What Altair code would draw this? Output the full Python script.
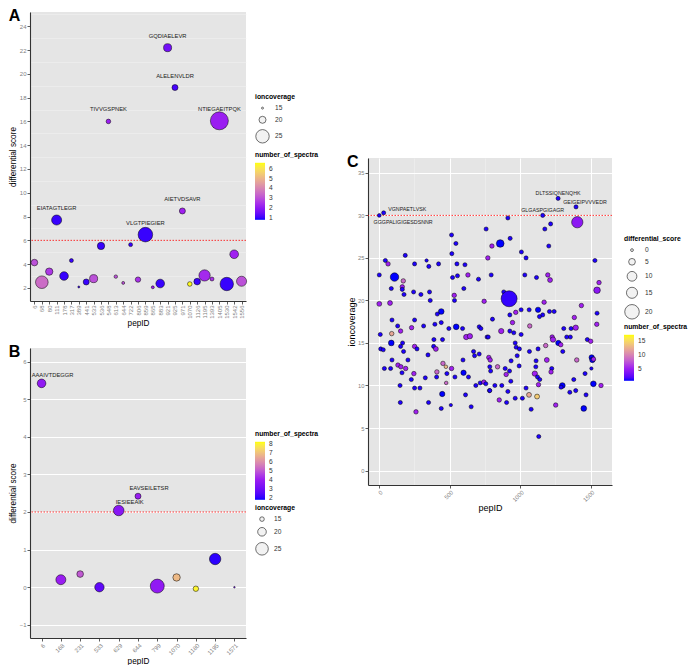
import altair as alt
import pandas as pd

# ---------------- Panel A data ----------------
a_pep = ["6", "68", "80", "111", "178", "317", "389", "441", "533", "536", "548", "613", "644", "722", "806",
         "859", "865", "883", "921", "925", "971", "1070", "1126", "1195", "1393", "1405", "1530", "1542", "1556"]
a_diff = [4.13, 2.48, 3.37, 7.71, 3.00, 4.30, 2.08, 2.50, 2.78, 5.53, 16.00, 2.95, 2.42, 5.64, 2.70,
          6.48, 2.05, 2.37, 22.20, 18.85, 8.47, 2.33, 2.53, 3.05, 2.75, 16.05, 2.33, 4.83, 2.56]
a_ion = [19.4, 24.2, 20.2, 22.0, 21.0, 16.3, 15.0, 18.6, 20.6, 20.2, 16.9, 15.9, 15.5, 16.3, 17.8,
         26.0, 15.5, 21.0, 20.6, 18.6, 18.6, 16.9, 19.4, 23.0, 16.3, 29.5, 25.0, 21.0, 22.0]
a_spec = [3.0, 3.5, 2.6, 1.0, 1.0, 1.0, 1.0, 1.0, 3.0, 1.0, 2.2, 3.0, 3.0, 1.0, 2.5,
          1.0, 2.3, 1.0, 1.6, 1.1, 2.3, 6.5, 1.0, 2.4, 2.5, 2.2, 1.0, 2.3, 3.0]
a_label = ["", "", "", "EIATAGTLEGR", "", "", "", "", "", "", "TIVVGSPNEK", "", "", "", "",
           "VLGTPIEGIER", "", "", "GQDIAELEVR", "ALELENVLDR", "AIETVDSAVR", "", "", "", "",
           "NTIEGAEITPQK", "", "", ""]
a_yticks = [2, 4, 6, 8, 10, 12, 14, 16, 18, 20, 22, 24]
a_yminor = [1, 3, 5, 7, 9, 11, 13, 15, 17, 19, 21, 23, 25]
A_THRESH = 6

# ---------------- Panel B data ----------------
b_pep = ["6", "168", "231", "533", "629", "644", "799", "1070", "1180", "1195", "1571"]
b_diff = [5.42, 0.20, 0.35, 0.00, 2.04, 2.42, 0.03, 0.26, -0.04, 0.75, 0.00]
b_ion = [20.0, 21.5, 17.2, 20.8, 22.2, 16.4, 26.8, 18.2, 15.8, 23.3, 12.0]
b_spec = [3.8, 4.0, 5.0, 2.7, 3.6, 4.0, 3.8, 6.8, 8.0, 2.0, 3.0]
b_label = ["AAAIVTDEGGR", "", "", "", "IESIEEAIK", "EAVSEILETSR", "", "", "", "", ""]
B_THRESH = 2

# ---------------- Panel C data ----------------
c_pep = [33, 2, 759, 514, 545, 516, 186, 771, 45, 64, 337, 252, 353, 422, 552, 609, 2, 110, 172, 521,
         556, 630, 705, 795, 87, 165, 165, 177, 245, 297, 358, 601, 533, 535, 363, 2, 78, 745, 441, 413,
         92, 252, 132, 316, 396, 441, 231, 153, 9, 90, 547, 495, 592, 618, 644, 710, 722, 766, 87, 167,
         389, 450, 12, 30, 153, 174, 252, 269, 387, 403, 347, 205, 92, 670, 677, 710, 778, 595, 134, 155,
         189, 38, 82, 163, 247, 453, 474, 514, 410, 408, 481, 538, 599, 634, 328, 229, 476, 149, 252, 290,
         448, 686, 717, 743, 757, 783, 613, 151, 351, 509, 441, 653, 262,
         1269, 1396, 1160, 913, 1405, 1216, 1175, 929, 859, 800, 1203, 1009, 1042, 1530, 1033, 1116, 1196,
         1212, 1559, 1545, 884, 922, 1007, 1064, 1127, 1170, 1208, 1241, 1160, 1137, 1434, 1545, 1384, 927,
         969, 804, 946, 1068, 866, 927, 955, 1007, 774, 1309, 1361, 1394, 1543, 1227, 1233, 1330, 1356,
         1271, 1288, 1476, 1500, 965, 972, 995, 1181, 1127, 1066, 1302, 979, 788, 936, 1189, 1113, 1401,
         1507, 1512, 1520, 993, 1111, 785, 840, 894, 925, 1224, 1219, 1505, 791, 1104, 901, 1123, 1139,
         1460, 1380, 934, 1130, 821, 870, 1299, 1290, 1519, 1573, 1042, 785, 913, 1352, 1394, 1063, 1120,
         965, 1016, 1467, 852, 904, 1252, 1451, 1078, 1132]
c_ion = [30.3, 30.0, 28.4, 27.7, 26.7, 25.5, 25.3, 25.0, 24.7, 24.3, 24.7, 24.3, 24.0, 24.3, 24.3, 24.2, 23.0, 22.75, 22.3, 22.7,
         22.9, 23.0, 22.5, 23.0, 21.4, 21.6, 21.3, 20.7, 21.0, 20.7, 21.0, 21.4, 20.6, 20.0, 20.0, 19.6, 19.7, 19.9, 18.7, 18.4,
         17.7, 17.7, 17.0, 17.0, 17.2, 17.4, 16.8, 16.4, 16.0, 16.1, 16.9, 16.7, 16.7, 15.7, 15.8, 16.9, 16.7, 15.7, 15.0, 15.0,
         15.4, 15.4, 14.3, 14.2, 14.6, 14.0, 14.6, 14.3, 14.6, 14.3, 13.6, 13.0, 13.0, 14.0, 13.5, 13.7, 13.3, 13.0, 12.4, 12.2,
         12.0, 12.0, 12.0, 11.5, 11.4, 12.6, 12.2, 12.0, 11.6, 11.0, 11.4, 11.0, 11.5, 11.0, 10.9, 10.7, 10.3, 10.0, 9.7, 9.7,
         9.0, 10.0, 10.3, 10.4, 10.2, 9.4, 8.9, 8.0, 8.0, 7.7, 7.3, 7.5, 6.9,
         32.0, 31.0, 30.0, 29.7, 29.2, 29.0, 28.4, 27.3, 26.7, 26.4, 26.4, 25.7, 25.0, 24.7, 23.0, 22.7, 23.0,
         22.4, 22.1, 21.2, 21.0, 20.2, 18.9, 18.9, 18.9, 19.8, 18.7, 18.7, 18.3, 18.1, 19.4, 18.5, 18.0, 18.3,
         18.6, 17.8, 17.4, 17.0, 16.4, 16.4, 16.2, 16.0, 15.7, 16.7, 16.7, 16.8, 17.2, 15.7, 15.4, 15.7, 15.7,
         15.0, 14.8, 15.4, 15.2, 15.0, 14.5, 14.3, 14.7, 14.3, 14.0, 14.0, 13.5, 13.0, 12.9, 13.0, 12.9, 13.0,
         13.3, 13.0, 13.1, 12.3, 12.2, 12.2, 12.2, 12.0, 11.7, 12.0, 11.6, 12.0, 11.7, 11.4, 11.3, 11.0, 10.7,
         11.4, 10.7, 10.5, 10.1, 10.0, 10.0, 10.0, 9.8, 10.2, 10.0, 9.7, 9.4, 9.3, 9.2, 9.4, 8.9, 8.7,
         8.5, 8.5, 8.9, 8.3, 8.0, 7.7, 7.3, 7.2, 4.0]
c_diff = [1.5, 1.0, 1.5, 1.5, 1.5, 1.5, 1.5, 2, 1.5, 2, 0.5, 1.5, 1.5, 1.5, 1.5, 1.5, 1.5, 7.7, 2, 1.5,
          1.5, 2, 1.5, 1.5, 1.5, 2, 1.5, 1.5, 1.5, 1.5, 1.5, 1.5, 2, 1.5, 1.5, 2.5, 2.5, 2, 3.5, 1.5,
          1.5, 1.5, 1.5, 1.5, 1.5, 1.5, 2, 2, 1.5, 2, 3.5, 1.5, 1.5, 3, 3, 1.5, 1.5, 1.5, 3.5, 1.5,
          1.5, 1.5, 1.5, 1.5, 1.5, 1.5, 2, 1.5, 1.5, 2.5, 1.5, 1.5, 1.5, 1.5, 1.5, 1.5, 2, 1.5, 2, 2,
          2, 1.5, 1.5, 1.5, 2, 2, 0.8, 2, 2, 1.5, 1.5, 1.5, 3, 1.5, 1.5, 1.5, 0.8, 1.5, 1.5, 1.5,
          3, 1.5, 1.5, 2, 1.5, 1.5, 1.5, 1.5, 1.5, 0.5, 1.5, 1.5, 2,
          1.5, 1.5, 1.5, 1.5, 16.0, 1.5, 1.5, 1.5, 6.4, 2, 1.5, 1.5, 1.5, 1.5, 1.5, 1.5, 2,
          2.5, 2, 4.8, 1.5, 22.2, 1.5, 1.5, 3, 2, 1.5, 1.5, 1.5, 1.5, 2, 1.5, 2, 1.5,
          2, 1.5, 2, 2, 3, 1.5, 1.5, 1.5, 1.5, 1.5, 1.5, 3, 2, 2, 3, 1.5, 1.5,
          3, 2, 1.5, 2, 1.5, 1.5, 1.5, 2, 1.5, 1.5, 1.5, 1.5, 2, 1.5, 2.5, 1.5, 2,
          3, 3, 2, 1.5, 1.5, 1.5, 2, 1.5, 1.5, 1.5, 2, 0.5, 1.5, 3, 2, 1.5, 1.5,
          1.5, 1.5, 1.5, 2, 1.5, 1.5, 3.5, 1.5, 3.5, 2, 1.5, 1.5, 1.5, 1.5, 1.5, 2.5, 2.5,
          1.5, 1.5, 1.5, 2, 1.5, 2, 3.5, 1.5, 1.5]
c_spec = [1.2, 1.2, 1.2, 1.2, 1.2, 1.2, 1.2, 5.5, 1.2, 5.5, 1.2, 1.2, 1.2, 1.2, 1.2, 1.2, 1.2, 1.0, 8.5, 1.2,
          1.2, 5.5, 1.2, 1.2, 1.2, 5.5, 1.2, 1.2, 1.2, 1.2, 1.2, 1.2, 5.5, 1.2, 1.2, 5.5, 5.5, 5.5, 1.0, 1.2,
          1.2, 1.2, 1.2, 1.2, 1.2, 1.2, 5.5, 5.5, 1.2, 12, 1.0, 1.2, 1.2, 5.5, 5.5, 1.2, 1.2, 1.2, 1.0, 1.2,
          1.2, 1.2, 1.2, 1.2, 1.2, 1.2, 5.5, 1.2, 1.2, 5.5, 1.2, 1.2, 1.2, 1.2, 1.2, 1.2, 5.5, 1.2, 5.5, 5.5,
          5.5, 1.2, 1.2, 1.2, 5.5, 8.5, 13, 5.5, 8.5, 1.2, 1.2, 1.2, 1.0, 1.2, 1.2, 1.2, 8.5, 1.2, 1.2, 1.2,
          1.0, 1.2, 1.2, 5.5, 1.2, 1.2, 1.2, 1.2, 1.2, 1.2, 1.2, 1.2, 5.5,
          1.2, 1.2, 1.2, 1.2, 4.5, 1.2, 1.2, 1.2, 1.0, 5.5, 1.2, 1.2, 1.2, 1.2, 1.2, 1.2, 5.5,
          5.5, 5.5, 4.5, 1.2, 1.5, 1.2, 1.2, 1.0, 5.5, 1.2, 1.2, 1.2, 1.2, 5.5, 1.2, 5.5, 1.2,
          5.5, 1.2, 5.5, 8.5, 5.5, 1.2, 1.2, 1.2, 1.2, 1.2, 1.2, 5.5, 5.5, 5.5, 5.5, 1.2, 1.2,
          1.0, 5.5, 1.2, 5.5, 1.2, 1.2, 1.2, 8.5, 1.2, 1.2, 1.2, 1.2, 5.5, 1.2, 5.5, 1.2, 8.5,
          1.0, 1.0, 5.5, 1.2, 1.2, 1.2, 8.5, 1.2, 1.2, 1.2, 5.5, 1.2, 1.2, 5.5, 5.5, 1.2, 1.2,
          1.2, 1.2, 1.2, 5.5, 1.2, 1.2, 1.0, 1.2, 1.0, 5.5, 1.2, 1.2, 1.2, 1.2, 1.2, 12, 14,
          1.2, 1.2, 1.2, 5.5, 1.2, 5.5, 1.0, 1.2, 1.2]
c_lab_text = ["VGNPAETLVSK", "GGGPALIGIGESDSNNR", "DLTSSIQNENQHK", "GEIGEIPVVVEDR", "GLGASPGIGAGR"]
c_lab_pep = [33, 2, 1269, 1396, 1160]
c_lab_ion = [30.3, 30.0, 32.0, 31.0, 30.0]
C_THRESH = 30

# ---------------- styling helpers ----------------
BG = "#E5E5E5"
MINOR = "#F2F2F2"
FONT = "Liberation Sans"
GRAD = ["#0000FF", "#A020F0", "#FFFF00"]


def major_test(step):
    return f"abs(datum.value / {step} - round(datum.value / {step})) < 0.001"


def q_axis(title, values, step, label_fs, title_fs, angle=0, fmt=None):
    major = major_test(step)
    kw = dict(
        title=title, values=values,
        labelExpr=f"({major}) ? datum.label : ''",
        gridColor={"condition": {"test": major, "value": "white"}, "value": MINOR},
        gridWidth={"condition": {"test": major, "value": 1.0}, "value": 0.5},
        tickOpacity={"condition": {"test": major, "value": 1}, "value": 0},
        labelAngle=angle, labelFontSize=label_fs, titleFontSize=title_fs, labelOverlap=False,
    )
    if fmt:
        kw["format"] = fmt
    return alt.Axis(**kw)


def cat_axis(angle):
    return alt.Axis(title="pepID", labelAngle=angle, labelFontSize=6, titleFontSize=8.2,
                    gridColor="white", gridWidth=1.0, labelOverlap=False)


def size_legend(title, values, lx, ly):
    return alt.Legend(title=title, values=values, orient="none", legendX=lx, legendY=ly,
                      symbolFillColor=MINOR, symbolStrokeColor="#333333", symbolStrokeWidth=0.7,
                      titleFontSize=6.8, labelFontSize=6.6, rowPadding=3, labelOffset=5)


def color_legend(title, values, lx, ly, length):
    return alt.Legend(title=title, values=values, orient="none", legendX=lx, legendY=ly,
                      direction="vertical", gradientLength=length, gradientThickness=10,
                      titleFontSize=6.8, labelFontSize=6.6, labelOffset=4)


def panel_title(letter):
    return alt.TitleParams(text=letter, anchor="start", frame="bounds", fontSize=16,
                           fontWeight="bold", color="black", font=FONT, offset=-12)


def point_style():
    return dict(opacity=1, stroke="black", strokeWidth=0.5)


RES = dict(size="independent", fill="independent")

# ---------------- Panel A ----------------
dfA = pd.DataFrame({"pepID": a_pep, "diff": a_diff, "ion": a_ion, "spec": a_spec, "label": a_label})
xA = alt.X("pepID:N", sort=a_pep, scale=alt.Scale(type="point", padding=0.6), axis=cat_axis(-90))
yscaleA = alt.Scale(domain=[0.9, 25.2], nice=False, zero=False)
yA = alt.Y("diff:Q", scale=yscaleA,
           axis=alt.Axis(title="differential score", values=a_yticks, gridColor="white", gridWidth=1.0,
                         labelFontSize=6, titleFontSize=8.2, labelOverlap=False))
ptsA = alt.Chart(dfA).mark_circle(**point_style()).encode(
    x=xA, y=yA,
    size=alt.Size("ion:Q", scale=alt.Scale(domain=[15, 20, 25, 30], range=[4, 49, 180, 340]),
                  legend=size_legend("ioncoverage", [15, 20, 25], 225, 82)),
    fill=alt.Fill("spec:Q", scale=alt.Scale(domain=[0.8, 2.3, 6.6], range=GRAD, interpolate="lab"),
                  legend=color_legend("number_of_spectra", [1, 2, 3, 4, 5, 6], 225, 140, 57)),
)
txtA = alt.Chart(dfA).transform_filter("datum.label != ''").mark_text(
    dy=-12, fontSize=5.8, color="#222222").encode(
    x=alt.X("pepID:N", sort=a_pep), y=alt.Y("diff:Q", scale=yscaleA, axis=None), text="label:N")
# threshold line; its (right-hand, label-less) axis carries the minor grid
ruleA = alt.Chart(pd.DataFrame({"diff": [A_THRESH]})).mark_rule(
    color="#FF0000", strokeDash=[1.5, 1.5], strokeWidth=0.8).encode(
    y=alt.Y("diff:Q", scale=yscaleA,
            axis=alt.Axis(orient="right", values=a_yminor, labels=False, ticks=False, domain=False,
                          grid=True, gridColor=MINOR, gridWidth=0.5, title=None)))
chartA = alt.layer(ruleA, ptsA, txtA).resolve_axis(y="independent").properties(
    width=216, height=289, title=panel_title("A"))

# ---------------- Panel B ----------------
dfB = pd.DataFrame({"pepID": b_pep, "diff": b_diff, "ion": b_ion, "spec": b_spec, "label": b_label})
xB = alt.X("pepID:N", sort=b_pep, scale=alt.Scale(type="point", padding=0.6), axis=cat_axis(-45))
yB = alt.Y("diff:Q", scale=alt.Scale(domain=[-1.35, 6.36], nice=False, zero=False),
           axis=q_axis("differential score", [v / 2 for v in range(-2, 13)], 1, 6, 8.2))
baseB = alt.Chart(dfB).encode(x=xB, y=yB)
ptsB = baseB.mark_circle(**point_style()).encode(
    size=alt.Size("ion:Q", scale=alt.Scale(domain=[12, 15, 20, 25, 30], range=[2.5, 21, 74, 159, 260]),
                  legend=size_legend("ioncoverage", [15, 20, 25], 225, 157)),
    fill=alt.Fill("spec:Q", scale=alt.Scale(domain=[1.8, 4.2, 8.2], range=GRAD, interpolate="lab"),
                  legend=color_legend("number_of_spectra", [2, 3, 4, 5, 6, 7, 8], 225, 83, 58)),
)
txtB = baseB.transform_filter("datum.label != ''").mark_text(dx=11, dy=-8, fontSize=5.8, color="#222222").encode(text="label:N")
ruleB = alt.Chart(pd.DataFrame({"diff": [B_THRESH]})).mark_rule(
    color="#FF0000", strokeDash=[1.5, 1.5], strokeWidth=0.8).encode(y="diff:Q")
chartB = alt.layer(ruleB, ptsB, txtB).properties(width=216, height=290, title=panel_title("B"))

# ---------------- Panel C ----------------
dfC = pd.DataFrame({"pepID": c_pep, "ion": c_ion, "diff": c_diff, "spec": c_spec})
xC = alt.X("pepID:Q", scale=alt.Scale(domain=[-78, 1651], nice=False, zero=False),
           axis=q_axis("pepID", [0.0, 250.0, 500.0, 750.0, 1000.0, 1250.0, 1500.0], 500, 5.8, 9, angle=-45, fmt="d"))
yC = alt.Y("ion:Q", scale=alt.Scale(domain=[-1.7, 36.75], nice=False, zero=False),
           axis=q_axis("ioncoverage", [v * 2.5 for v in range(0, 15)], 5, 5.8, 9))
ptsC = alt.Chart(dfC).mark_circle(**point_style()).encode(
    x=xC, y=yC,
    size=alt.Size("diff:Q", scale=alt.Scale(domain=[0, 2, 5, 10, 16, 22.2], range=[8, 20, 45, 95, 128, 256]),
                  legend=size_legend("differential_score", [0, 5, 10, 15, 20], 256, 78)),
    fill=alt.Fill("spec:Q", scale=alt.Scale(domain=[1, 5.5, 17], range=GRAD, interpolate="lab"),
                  legend=color_legend("number_of_spectra", [5, 10, 15], 256, 166, 46)),
)
dfCL = pd.DataFrame({"pepID": c_lab_pep, "ion": c_lab_ion, "label": c_lab_text})


def c_text(names, dx, dy, align):
    return alt.Chart(dfCL).transform_filter(
        alt.FieldOneOfPredicate(field="label", oneOf=names)
    ).mark_text(dx=dx, dy=dy, align=align, fontSize=5.3, color="#222222").encode(
        x="pepID:Q", y="ion:Q", text="label:N")


txtC = [
    c_text(["DLTSSIQNENQHK", "GLGASPGIGAGR"], 0, -5, "center"),
    c_text(["GEIGEIPVVVEDR"], 9, -4.5, "center"),
    c_text(["VGNPAETLVSK"], 4.5, -4.3, "left"),
    c_text(["GGGPALIGIGESDSNNR"], -5.7, 6.4, "left"),
]
ruleC = alt.Chart(pd.DataFrame({"ion": [C_THRESH]})).mark_rule(
    color="#FF0000", strokeDash=[1.5, 1.5], strokeWidth=0.8).encode(y="ion:Q")
chartC = alt.layer(ruleC, ptsC, *txtC).properties(width=244, height=327, title=panel_title("C"))

spacer = alt.Chart(pd.DataFrame({"v": [0]})).mark_point(opacity=0).encode(
    x=alt.X("v:Q", axis=None), y=alt.Y("v:Q", axis=None)
).properties(width=1, height=141, view=alt.ViewBackground(fill="white", stroke="white"))

left = alt.vconcat(chartA, chartB, spacing=16).resolve_scale(**RES).resolve_legend(**RES)
right = alt.vconcat(spacer, chartC, spacing=0).resolve_scale(**RES).resolve_legend(**RES)

chart = alt.hconcat(left, right, spacing=28).resolve_scale(**RES).resolve_legend(**RES).properties(
    padding=0
).configure(
    font=FONT
).configure_view(
    fill=BG, stroke=None
).configure_axis(
    labelColor="#7F7F7F", titleColor="#000000", titleFontWeight="normal",
    domainColor="#333333", domainWidth=1.1, tickColor="#333333", tickSize=3, tickWidth=0.8,
    labelPadding=1, titlePadding=1.5, labelFont=FONT, titleFont=FONT,
).configure_legend(
    titleFont=FONT, labelFont=FONT, titleColor="#000000", labelColor="#333333",
    titleFontWeight="bold", titlePadding=4,
)

chart.save("out.html", embed_options={"renderer": "svg", "actions": False})
